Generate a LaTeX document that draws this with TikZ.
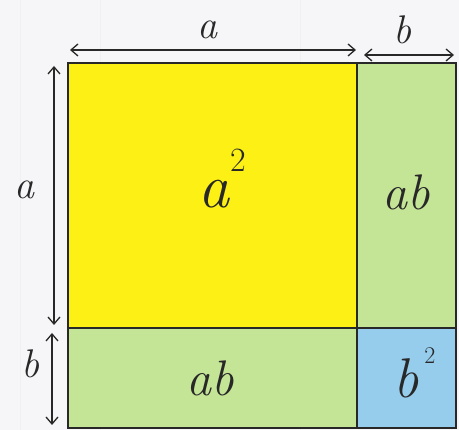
\documentclass[tikz,border=0pt]{standalone}
\usepackage{fontspec}
\usetikzlibrary{arrows.meta}
\definecolor{paper}{RGB}{246,246,248}
\definecolor{yel}{RGB}{252,240,20}
\definecolor{grn}{RGB}{196,228,150}
\definecolor{blu}{RGB}{150,204,236}
\definecolor{pen}{RGB}{40,40,40}
\tikzset{
  edge/.style={draw=pen, line width=1.6pt},
  dim/.style={draw=pen, line width=1.3pt, {Straight Barb[length=7pt,width=12pt]}-{Straight Barb[length=7pt,width=12pt]}},
  lab/.style={font=\fontsize{#1}{#1}\selectfont\itshape, text=pen, inner sep=0pt},
  sup/.style={font=\fontsize{#1}{#1}\selectfont, text=pen, inner sep=0pt},
}
\begin{document}
\begin{tikzpicture}[x=1pt,y=-1pt]
\useasboundingbox (0,0) rectangle (459,430);
\fill[paper] (0,0) rectangle (459,430);
\foreach \xx in {20,100,300} \draw[black!6, line width=0.6pt] (\xx,0) -- (\xx,430);
% regions
\fill[yel] (68,63) rectangle (357,328);
\fill[grn] (357,63) rectangle (456,328);
\fill[grn] (68,328) rectangle (357,428);
\fill[blu] (357,328) rectangle (456,428);
% outline
\draw[edge] (68,63) rectangle (456,428);
\draw[edge] (357,63) -- (357,428);
\draw[edge] (68,328) -- (456,328);
% dimension endpoints
\coordinate (ta1) at (70,50);  \coordinate (ta2) at (356,50);
\coordinate (tb1) at (364,55); \coordinate (tb2) at (454,55);
\coordinate (la1) at (54,66);  \coordinate (la2) at (54,325);
\coordinate (lb1) at (52,333); \coordinate (lb2) at (52,425);
\draw[dim] (ta1) -- (ta2);
\draw[dim] (tb1) -- (tb2);
\draw[dim] (la1) -- (la2);
\draw[dim] (lb1) -- (lb2);
% labels
\node[lab=40] (la) at (207,30) {a};
\node[lab=40] (lb) at (402,30) {b};
\node[lab=40] (lla) at (25,190) {a};
\node[lab=40] (llb) at (30,364) {b};
\node[lab=62] (sqa) at (214,194) {a};
\node[sup=34] (sqa2) at (238,160) {2};
\node[lab=50] (ab1) at (406,192) {ab};
\node[lab=50] (ab2) at (210,378) {ab};
\node[lab=56] (sqb) at (406,378) {b};
\node[sup=24] (sqb2) at (430,356) {2};
\end{tikzpicture}
\end{document}
